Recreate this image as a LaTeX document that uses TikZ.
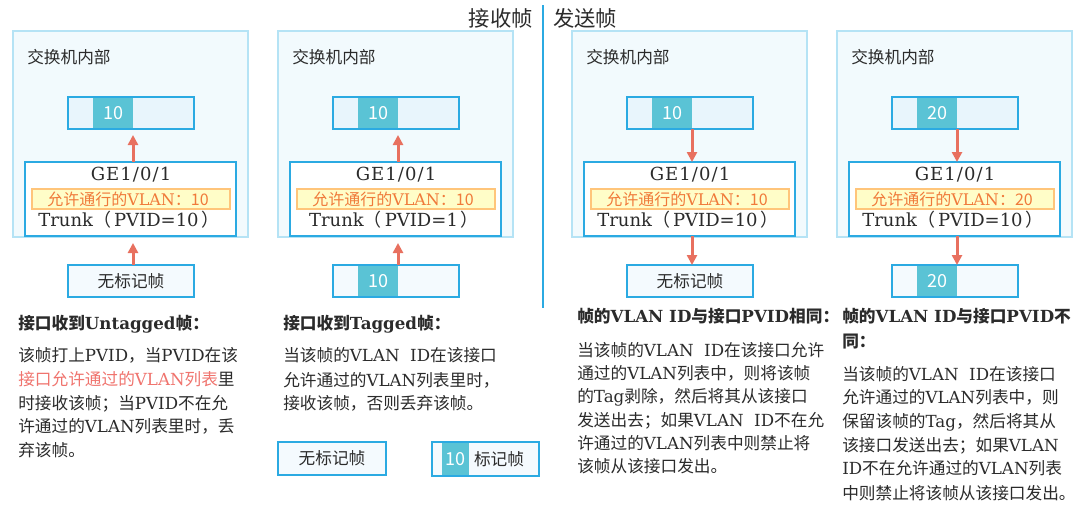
\documentclass[tikz,border=0pt]{standalone}
\usepackage{fontspec}
\setmainfont{Noto Sans CJK SC}
\newfontfamily\latfont{DejaVu Serif}
\newfontfamily\latspfont{DejaVu Serif}[LetterSpace=6]
\usetikzlibrary{arrows.meta,calc}
\definecolor{outerfill}{HTML}{F2FAFD}
\definecolor{outerline}{HTML}{B5E3F5}
\definecolor{blueline}{HTML}{2BAAE2}
\definecolor{framefill}{HTML}{E8F5FC}
\definecolor{botfill}{HTML}{F4FAFE}
\definecolor{tealc}{HTML}{5AC3D5}
\definecolor{arrowc}{HTML}{E8705F}
\definecolor{hlfill}{HTML}{FFFDC8}
\definecolor{hlline}{HTML}{FFC57A}
\definecolor{hltext}{HTML}{F07A3A}
\definecolor{redtext}{HTML}{F0746E}
\definecolor{txt}{HTML}{2B2B2B}
\newcommand\lat[1]{{\latfont #1}}
\def\px{*0.75pt}
\tikzset{
  base/.style={inner sep=0pt, outer sep=0pt, anchor=north west},
  outerbox/.style={base, fill=outerfill, draw=outerline, line width=1.5\px},
  framebox/.style={base, fill=framefill},
  botbox/.style={base, fill=botfill, draw=blueline, line width=1.5\px},
  tealbox/.style={base, fill=tealc, text=white, font=\fontsize{13.5}{15}\selectfont},
  portbox/.style={base, fill=white, draw=blueline, line width=1.5\px},
  hlbox/.style={base, fill=hlfill, draw=hlline, line width=1.2\px},
  frameline/.style={draw=blueline, line width=1.5\px},
  arr/.style={draw=arrowc, line width=2.25pt, -{Triangle[length=7.5pt,width=7.5pt]}},
  lbl/.style={inner sep=0pt, anchor=west, text=txt, font=\fontsize{12.5}{15}\selectfont},
  porttxt/.style={inner sep=0pt, text=txt, font=\fontsize{13.5}{15}\selectfont},
  hltxt/.style={inner sep=0pt, text=hltext, font=\fontsize{12}{14}\selectfont},
  body/.style={inner sep=0pt, anchor=west, text=txt, text height=0.8em, text depth=0.2em, font=\fontsize{12.5}{15}\selectfont},
  head/.style={body, font=\fontsize{12.5}{15}\selectfont\bfseries},
}
% #1 left x, #2 prefix, #3 top number, #4 allowed vlan, #5 pvid
\newcommand\mypanel[5]{%
  \node[outerbox, minimum width=235\px, minimum height=206\px] (#2o) at (#1,31) {};
  \node[lbl] (#2l) at ({#1+14},57) {交换机内部};
  \node[framebox, minimum width=126\px, minimum height=32\px] (#2f) at ({#1+55},97) {};
  \node[tealbox, minimum width=40\px, minimum height=32\px] (#2t) at ({#1+80},97) {#3};
  \draw[frameline] (#2f.north west) rectangle (#2f.south east);
  \node[portbox, minimum width=211\px, minimum height=74\px] (#2p) at ({#1+12},162) {};
  \node[hlbox, minimum width=198\px, minimum height=20\px] (#2h) at ({#1+19},189) {};
  \node[porttxt] (#2g) at ({#1+118},175) {{\latspfont GE1/0/1}};
  \node[hltxt] (#2a) at ({#1+115},199.5) {允许通行的\lat{VLAN}：#4};
  \node[porttxt] (#2k) at ({#1+116},220) {\lat{Trunk}（\,\lat{PVID=#5}\,）};
}
\newcommand\untagbot[2]{%
  \node[botbox, minimum width=126\px, minimum height=32\px] (#2b) at ({#1+55},265) {};
  \node[lbl, anchor=center] (#2bt) at (#2b.center) {无标记帧};
}
\newcommand\tagbot[3]{%
  \node[botbox, minimum width=126\px, minimum height=32\px] (#2b) at ({#1+55},265) {};
  \node[tealbox, minimum width=40\px, minimum height=32\px] (#2bt) at ({#1+80},265) {#3};
  \draw[frameline] (#2b.north west) rectangle (#2b.south east);
}
\newcommand\recvarrows[1]{%
  \draw[arr, shorten >=4.5pt] (#1p.north -| #1t.east) -- (#1f.south -| #1t.east);
  \draw[arr, shorten >=5.25pt] (#1b.north -| #1t.east) -- (#1p.south -| #1t.east);
}
\newcommand\sendarrows[1]{%
  \draw[arr] (#1f.south -| #1t.east) -- (#1p.north -| #1t.east);
  \draw[arr] (#1p.south -| #1t.east) -- (#1b.north -| #1t.east);
}
\begin{document}
\begin{tikzpicture}[x=0.75pt, y=-0.75pt]
\useasboundingbox[fill=white] (0,0) rectangle (1080,507);
% titles and divider
\node[inner sep=0pt, anchor=east, text=txt, font=\fontsize{16}{18}\selectfont] (trecv) at (533,18) {接收帧};
\node[inner sep=0pt, anchor=west, text=txt, font=\fontsize{16}{18}\selectfont] (tsend) at (553,18) {发送帧};
\coordinate (dtop) at (543,5);
\coordinate (dbot) at (543,308);
\draw[draw=blueline, line width=1.5\px] (dtop) -- (dbot);
% panels
\mypanel{13}{pa}{10}{10}{10}
\untagbot{13}{pa}
\recvarrows{pa}
\mypanel{278}{pb}{10}{10}{1}
\tagbot{278}{pb}{10}
\recvarrows{pb}
\mypanel{572}{pc}{10}{10}{10}
\untagbot{572}{pc}
\sendarrows{pc}
\mypanel{837}{pd}{20}{20}{10}
\tagbot{837}{pd}{20}
\sendarrows{pd}
% block 1
\node[head] (h1) at (18,325) {接口收到\lat{Untagged}帧：};
\node[body] (a1) at (18,357) {该帧打上\lat{PVID}，当\lat{PVID}在该};
\node[body] (a2) at (18,381) {\textcolor{redtext}{接口允许通过的\lat{VLAN}列表}里};
\node[body] (a3) at (18,405) {时接收该帧；当\lat{PVID}不在允};
\node[body] (a4) at (18,428) {许通过的\lat{VLAN}列表里时，丢};
\node[body] (a5) at (18,452) {弃该帧。};
% block 2
\node[head] (h2) at (283,325) {接口收到\lat{Tagged}帧：};
\node[body] (b1) at (283,357) {当该帧的\lat{VLAN\ \ ID}在该接口};
\node[body] (b2) at (283,382) {允许通过的\lat{VLAN}列表里时，};
\node[body] (b3) at (283,405) {接收该帧，否则丢弃该帧。};
% legend
\node[botbox, minimum width=108\px, minimum height=33\px] (lg1) at (278,442) {};
\node[lbl, anchor=center] (lg1t) at (lg1.center) {无标记帧};
\node[botbox, minimum width=107\px, minimum height=34\px] (lg2) at (432,442) {};
\node[tealbox, minimum width=27\px, minimum height=32.5\px] (lg2n) at (442,442.75) {10};
\node[lbl, anchor=center] (lg2t) at (499,459) {标记帧};
% block 3
\node[head] (h3) at (577,318) {帧的\lat{VLAN ID}与接口\lat{PVID}相同：};
\node[body] (c1) at (577,352) {当该帧的\lat{VLAN\ \ ID}在该接口允许};
\node[body] (c2) at (577,375) {通过的\lat{VLAN}列表中，则将该帧};
\node[body] (c3) at (577,398) {的\lat{Tag}剥除，然后将其从该接口};
\node[body] (c4) at (577,422) {发送出去；如果\lat{VLAN\ \ ID}不在允};
\node[body] (c5) at (577,445) {许通过的\lat{VLAN}列表中则禁止将};
\node[body] (c6) at (577,468) {该帧从该接口发出。};
% block 4
\node[head] (h4) at (842,318) {帧的\lat{VLAN ID}与接口\lat{PVID}不};
\node[head] (h4b) at (842,343) {同：};
\node[body] (d1) at (842,376) {当该帧的\lat{VLAN\ \ ID}在该接口};
\node[body] (d2) at (842,399) {允许通过的\lat{VLAN}列表中，则};
\node[body] (d3) at (842,423) {保留该帧的\lat{Tag}，然后将其从};
\node[body] (d4) at (842,447) {该接口发送出去；如果\lat{VLAN}};
\node[body] (d5) at (842,470) {\lat{ID}不在允许通过的\lat{VLAN}列表};
\node[body] (d6) at (842,495) {中则禁止将该帧从该接口发出。};
\end{tikzpicture}
\end{document}
